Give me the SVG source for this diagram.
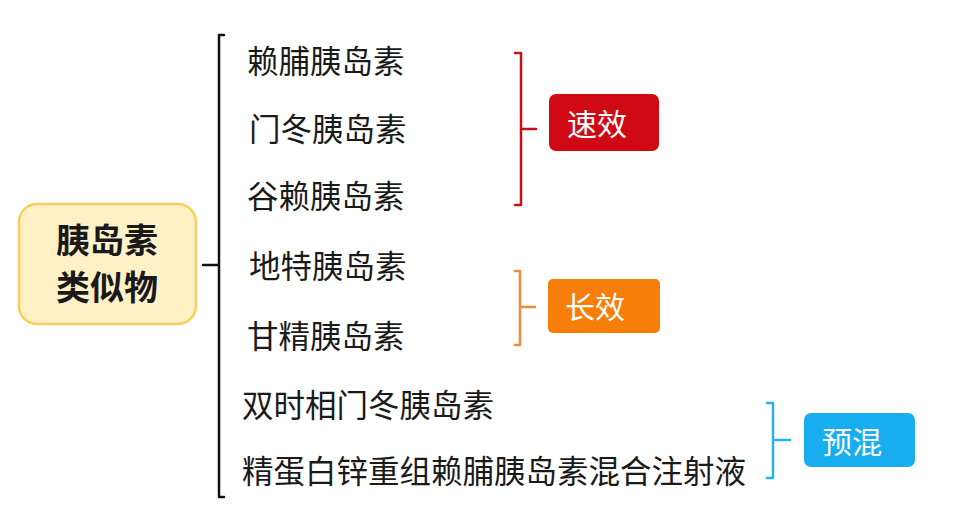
<svg xmlns="http://www.w3.org/2000/svg" width="953" height="513" viewBox="0 0 953 513">
<style>
.t{font-family:"Noto Sans CJK SC","Noto Sans",sans-serif;font-size:31.5px;fill:#1a1a1a;dominant-baseline:central}
.main{font-family:"Noto Sans CJK SC","Noto Sans",sans-serif;font-size:34px;font-weight:bold;fill:#1a1a1a;text-anchor:middle;dominant-baseline:central}
.tag{font-family:"Noto Sans CJK SC","Noto Sans",sans-serif;font-size:30px;fill:#ffffff;text-anchor:middle;dominant-baseline:central}
.br{fill:none;stroke-width:2.5;stroke-linecap:round;stroke-linejoin:round}
</style>
<rect width="953" height="513" fill="#ffffff"/>
<g id="root">
<rect x="19" y="204" width="177" height="120" rx="18" fill="#FFF1C6" stroke="#F6CF5C" stroke-width="2.5"/>
<text class="main" x="107" y="238">胰岛素</text>
<text class="main" x="107" y="285">类似物</text>
</g>
<g id="connectors">
<path class="br" stroke="#111" d="M203 265H219M224 35H219V497H224"/>
<path class="br" stroke="#C8101C" d="M515 53H521V205H515M521 129H536"/>
<path class="br" stroke="#F08A3A" d="M515 271H520V345H515M520 307H535"/>
<path class="br" stroke="#2AB0EA" d="M767 403H773V478H767M773 440H790"/>
</g>
<g id="items">
<text id="n1" class="t" x="247" y="59">赖脯胰岛素</text>
<text id="n2" class="t" x="249" y="127">门冬胰岛素</text>
<text id="n3" class="t" x="247" y="194">谷赖胰岛素</text>
<text id="n4" class="t" x="249" y="264">地特胰岛素</text>
<text id="n5" class="t" x="247" y="334">甘精胰岛素</text>
<text id="n6" class="t" x="242" y="403">双时相门冬胰岛素</text>
<text id="n7" class="t" x="242" y="469">精蛋白锌重组赖脯胰岛素混合注射液</text>
</g>
<g id="fast">
<rect x="549" y="94" width="110" height="57" rx="7" fill="#CF0A14"/>
<text class="tag" x="597" y="122">速效</text>
</g>
<g id="long">
<rect x="548" y="279" width="112" height="54" rx="5" fill="#F77E08"/>
<text class="tag" x="595" y="305">长效</text>
</g>
<g id="premix">
<rect x="804" y="413" width="111" height="54" rx="7" fill="#18ADEF"/>
<text class="tag" x="852" y="440">预混</text>
</g>
</svg>
